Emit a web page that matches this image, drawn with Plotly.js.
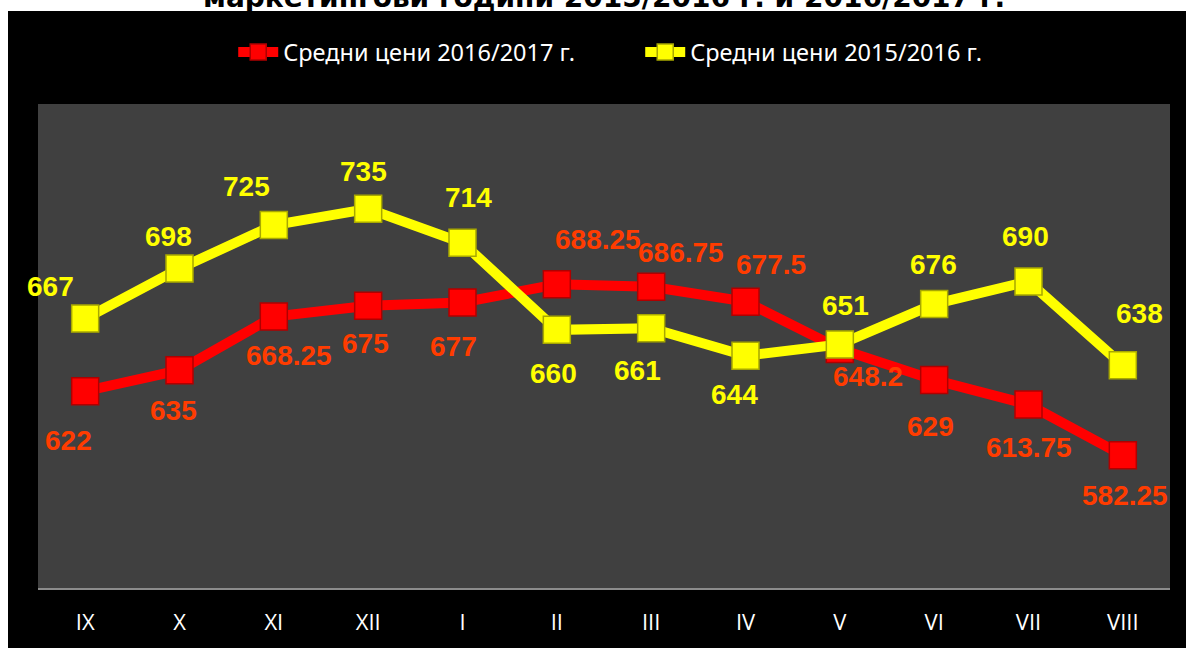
<!DOCTYPE html>
<html>
<head>
<meta charset="utf-8">
<script src="https://cdn.plot.ly/plotly-3.0.1.min.js"></script>
<style>html,body{margin:0;padding:0;background:#fff;}#chart{width:1186px;height:648px;}</style>
</head>
<body>
<div id="chart"></div>
<script>
// ---- data ----
const months = ['IX','X','XI','XII','I','II','III','IV','V','VI','VII','VIII'];
const prices1617 = [622, 635, 668.25, 675, 677, 688.25, 686.75, 677.5, 648.2, 629, 613.75, 582.25];
const prices1516 = [667, 698, 725, 735, 714, 660, 661, 644, 651, 676, 690, 638];
const name1617 = 'Средни цени 2016/2017 г.';
const name1516 = 'Средни цени 2015/2016 г.';
const titleText = 'маркетингови години 2015/2016 г. и 2016/2017 г.';

// ---- label placement (pixel offsets from each marker) ----
const offs1617 = [[-17,49],[-6,40],[15,39],[-3,38],[-9,44],[41,-45],[30,-34],[25,-37],[28,28],[-4,47],[0,43],[2,40]];
const offs1516 = [[-35,-32],[-11,-32],[-27,-39],[-5,-37],[6,-45],[-3,44],[-14,42],[-11,39],[6,-39],[-1,-40],[-3,-45],[17,-52]];

const redCol = '#FF0000', redLbl = '#FF3C00', yelCol = '#FFFF00';
const uiFont = 'Noto Sans';
const tickFont = 'Open Sans';

const traces = [
  {x: months, y: prices1617, name: name1617, type: 'scatter', mode: 'lines+markers',
   line: {color: redCol, width: 10},
   marker: {symbol: 'square', size: 27, color: redCol, line: {color: '#B00000', width: 1.5}}},
  {x: months, y: prices1516, name: name1516, type: 'scatter', mode: 'lines+markers',
   line: {color: yelCol, width: 10},
   marker: {symbol: 'square', size: 27, color: yelCol, line: {color: '#A8A800', width: 1.5}}}
];

const annotations = [];
function addLabels(vals, offs, color) {
  vals.forEach((v, i) => {
    annotations.push({x: months[i], y: v, xref: 'x', yref: 'y', text: String(v), showarrow: false,
      xshift: offs[i][0], yshift: -offs[i][1], xanchor: 'center', yanchor: 'middle',
      font: {family: 'Liberation Sans', size: 28, color: color, weight: 'bold'}});
  });
}
addLabels(prices1617, offs1617, redLbl);
addLabels(prices1516, offs1516, yelCol);
annotations.push({xref: 'paper', yref: 'paper', x: 0.5, y: 1.181, xanchor: 'center', yanchor: 'bottom',
  text: '<b>' + titleText + '</b>', showarrow: false,
  font: {family: 'DejaVu Sans', size: 28, color: '#000'}});

const layout = {
  width: 1186, height: 648,
  font: {family: uiFont, color: '#FFFFFF'},
  margin: {l: 38, r: 16, t: 104, b: 60},
  paper_bgcolor: '#000000', plot_bgcolor: '#404040',
  showlegend: true,
  legend: {orientation: 'h', x: 0.532, xanchor: 'center', y: 1.107, yanchor: 'middle',
    font: {family: uiFont, size: 23.5, color: '#FFFFFF'}, bgcolor: 'rgba(0,0,0,0)', itemwidth: 40,
    entrywidth: 352, entrywidthmode: 'pixels'},
  xaxis: {type: 'category', range: [-0.5, 11.5], showgrid: false, zeroline: false, showline: true, linecolor: '#8C8C8C', linewidth: 2,
    ticks: '', ticklabelstandoff: 14, tickfont: {family: tickFont, size: 22, color: '#FFFFFF'}, fixedrange: true},
  yaxis: {range: [500, 800], visible: false, showgrid: false, zeroline: false, fixedrange: true},
  annotations: annotations,
  shapes: [
    {type: 'rect', xref: 'paper', yref: 'paper', x0: -0.05, x1: (8-38)/1132, y0: -0.3, y1: 1.4, fillcolor: '#FFFFFF', line: {width: 0}, layer: 'below'},
    {type: 'rect', xref: 'paper', yref: 'paper', x0: -0.05, x1: 1.05, y0: (588-11)/484, y1: 1.4, fillcolor: '#FFFFFF', line: {width: 0}, layer: 'below'}
  ]
};

Plotly.newPlot('chart', traces, layout, {displayModeBar: false, staticPlot: true});
</script>
</body>
</html>
